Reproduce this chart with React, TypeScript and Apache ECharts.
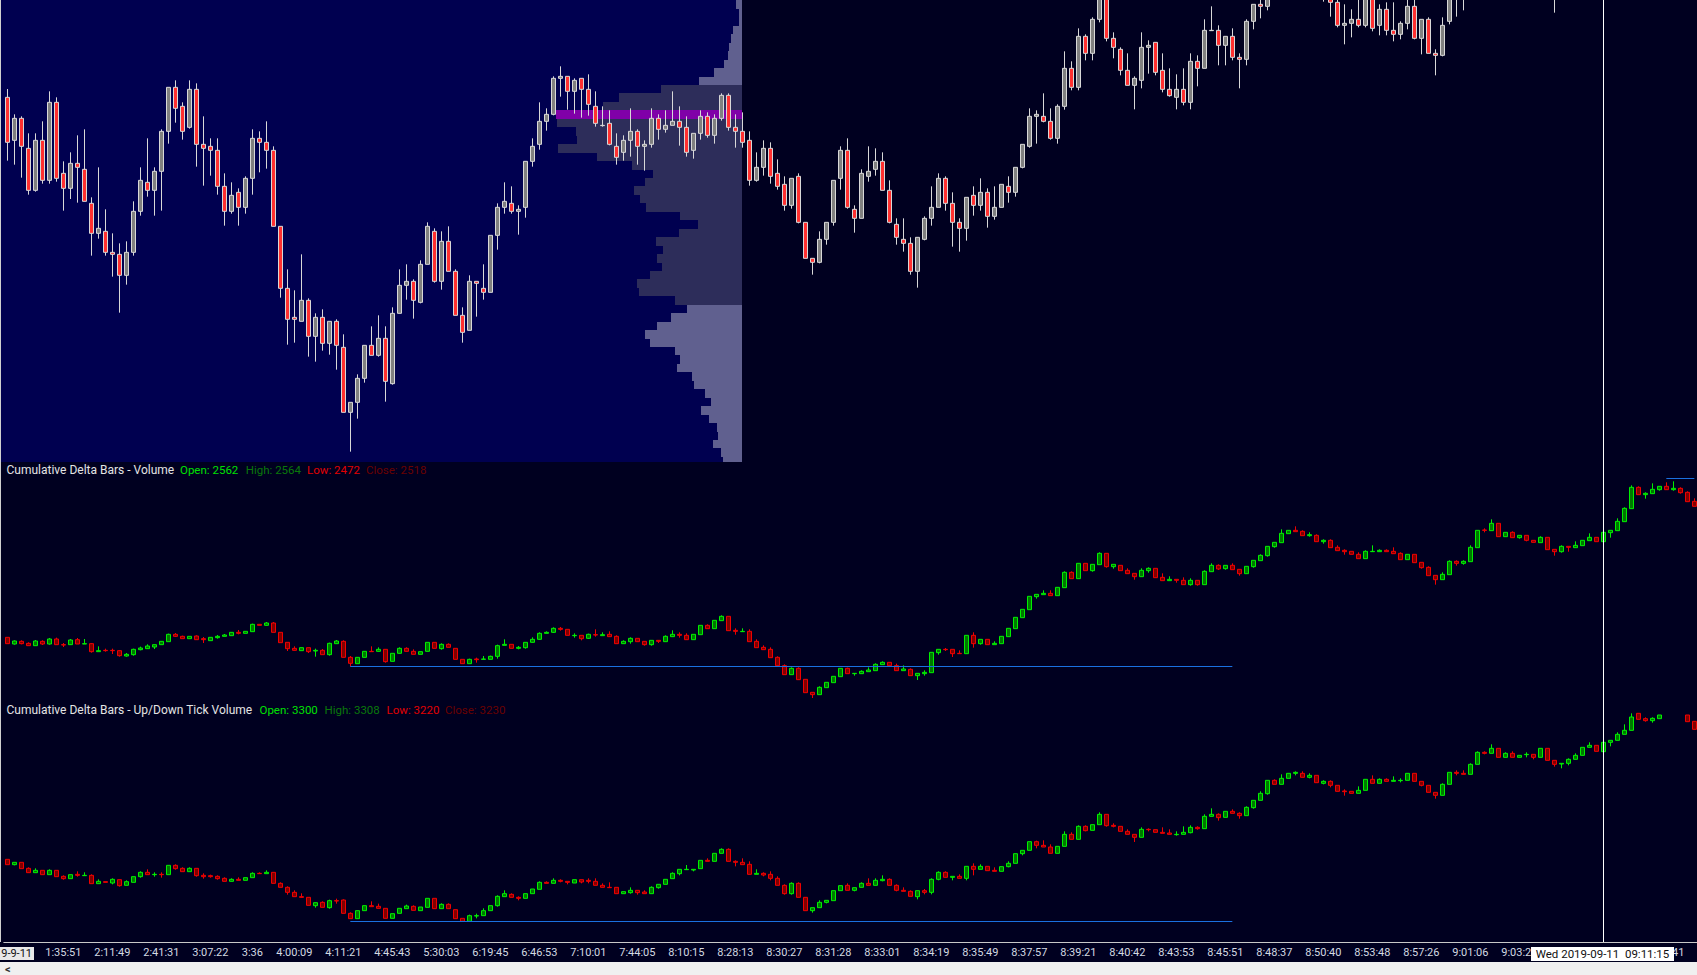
import React, { useEffect, useRef } from "react";
import * as echarts from "echarts";

type Bar = [number, number, number, number, number] | null;

const BAR_COUNT = 242;
const CROSSHAIR_INDEX = 228;

// [bodyTop, bodyBottom, wickTop, wickBottom, up] : depth below the top of the chart area
const priceBars: Bar[] = [
  [292,427,267,482,0],[355,421,343,494,1],[355,439,349,533,0],[445,571,400,584,0],[421,571,400,575,1],[421,541,364,551,0],[307,541,274,551,1],[307,535,292,545,0],[520,565,484,632,0],[490,565,457,597,1],
  [490,502,406,608,0],[508,604,388,604,0],[610,700,592,767,0],[685,700,502,716,1],[694,757,628,767,0],[757,763,700,830,0],[763,826,730,938,0],[757,826,724,854,1],[634,757,604,767,1],[541,634,502,647,1],
  [547,571,415,590,0],[514,571,502,647,1],[394,514,388,632,1],[262,394,262,431,1],[262,325,241,368,0],[319,394,307,419,0],[268,382,241,386,1],[268,433,250,500,0],[433,445,349,557,0],[439,451,415,527,0],
  [451,559,415,584,0],[559,634,520,677,0],[586,634,547,641,1],[577,622,565,677,0],[535,622,529,641,1],[415,535,388,584,1],[415,427,394,517,0],[427,451,364,506,0],[451,679,439,679,0],[679,865,679,893,0],
  [865,958,808,1034,0],[952,958,871,1028,0],[901,964,763,964,1],[901,1009,895,1070,0],[952,1009,940,1085,1],[952,1030,928,1052,0],[964,1030,964,1064,1],[964,1036,958,1109,0],[1042,1237,1003,1237,0],[1207,1237,1207,1355,1],
  [1135,1207,1123,1256,1],[1036,1135,1036,1148,1],[1036,1066,979,1066,0],[1015,1066,946,1070,1],[1015,1144,979,1205,0],[940,1151,922,1154,1],[856,940,808,940,1],[844,856,793,899,1],[844,901,838,956,0],[793,907,781,910,1],
  [679,793,667,793,1],[694,844,685,848,0],[724,844,694,869,1],[724,814,679,814,0],[814,946,808,946,0],[946,997,922,1028,0],[844,991,826,991,1],[844,850,844,950,0],[865,877,793,899,0],[706,877,706,877,1],
  [622,706,610,749,1],[604,622,547,641,1],[610,634,559,641,0],[628,634,616,704,1],[484,622,484,653,1],[439,484,415,500,1],[364,433,307,449,1],[343,364,325,392,1],[235,343,229,346,1],[229,235,199,290,1],
  [229,274,229,329,0],[241,274,235,341,1],[235,268,235,353,0],[268,313,223,347,0],[319,370,274,380,0],[376,377,319,380,1],[370,433,331,436,0],[439,472,400,494,0],[421,457,406,482,1],[394,421,325,470,1],
  [394,439,388,494,0],[433,439,421,512,1],[355,433,325,443,1],[355,388,343,419,0],[376,388,331,398,1],[364,376,274,376,1],[364,382,319,437,0],[382,457,349,470,0],[400,451,400,476,1],[349,400,331,419,1],
  [349,406,337,413,0],[355,406,343,431,1],[286,355,280,362,1],[286,382,280,392,0],[382,394,343,443,0],[394,427,337,443,0],[421,541,394,557,0],[502,541,457,545,1],[445,502,421,527,1],[445,529,427,551,0],
  [520,559,478,569,0],[553,616,529,632,0],[535,616,535,626,1],[529,667,520,670,0],[667,775,667,775,0],[775,787,775,824,0],[718,787,694,790,1],[667,718,667,734,1],[541,667,541,677,1],[451,535,439,569,1],
  [451,622,415,626,0],[628,655,616,698,0],[520,655,508,655,1],[514,529,439,545,1],[484,508,445,527,1],[484,571,457,571,0],[571,667,541,670,0],[673,712,655,734,0],[718,730,655,755,0],[730,814,712,824,0],
  [712,814,712,863,1],[655,718,649,721,1],[622,655,559,677,1],[535,622,520,622,1],[535,610,529,632,0],[610,667,577,740,0],[667,685,655,755,0],[592,685,592,722,1],[586,616,559,647,0],[577,616,535,632,1],
  [577,649,565,683,0],[622,649,559,659,1],[553,622,553,622,1],[559,577,529,608,0],[502,577,502,590,1],[433,502,433,505,1],[349,439,325,443,1],[343,349,331,431,1],[349,364,280,367,0],[364,415,325,419,0],
  [319,415,313,431,1],[205,319,154,329,1],[205,262,184,271,0],[109,262,85,271,1],[109,160,103,181,0],[58,160,52,181,1],[-40,58,-50,67,1],[-20,115,-30,124,0],[115,142,97,175,0],[148,211,142,226,0],
  [211,256,160,256,0],[235,256,229,328,1],[142,241,97,265,1],[136,142,121,221,1],[127,217,127,226,0],[211,268,160,277,0],[268,287,205,290,0],[268,292,223,328,1],[268,307,205,316,0],[184,307,160,328,1],
  [184,205,166,259,0],[91,205,58,205,1],[91,92,19,92,1],[91,136,76,196,0],[109,136,109,196,1],[109,172,85,181,0],[172,178,160,265,0],[64,178,58,196,1],[13,64,13,88,1],[13,19,-10,55,0],
  [-12,19,-20,31,1],null,null,null,null,null,null,null,[-20,-10,-30,5,1],[-10,7,-20,50,0],
  [7,76,-15,82,0],[70,76,13,133,1],[58,70,28,112,1],[58,76,-10,82,0],[-6,76,-15,82,1],[-6,85,-15,94,0],[28,76,13,106,1],[28,91,7,106,0],[91,103,7,124,0],[70,103,64,118,1],
  [19,70,-5,88,1],[19,115,-5,118,0],[58,115,58,163,1],[58,160,52,160,0],[160,166,148,226,0],[76,166,52,169,1],[-10,64,-15,73,1],[-30,-15,-40,50,1],[-25,-15,-35,31,1],null,
  null,null,null,null,null,null,null,null,null,null,null,[-25,-15,-35,38,1],null,null,null,null,null,null,null,null,
  null,null,
];

// Volume profile, one value per price row from the top
const profileVolumes = [
  18,9,9,27,33,39,42,54,84,129,
  243,369,417,558,555,498,495,552,435,330,267,291,324,306,288,186,132,189,258,237,255,240,276,315,309,201,
  165,213,255,291,276,201,186,195,150,144,111,93,123,99,75,72,87,63,57,
];
const POC_ROW = 13;
const VALUE_AREA_START = 10;
const VALUE_AREA_END = 35;

// Cumulative Delta Bars - Volume : readings in three stretches of the pane
const volumeDeltaA: Bar[] = [
  [547,566,547,566,0],[558,567,556,569,1],[559,566,556,568,0],[565,572,562,572,0],[558,572,555,572,1],[559,567,556,570,0],[552,567,549,569,1],[552,569,548,569,0],[569,570,564,576,0],[555,569,552,570,1],
  [554,567,549,567,0],[566,567,552,567,1],[566,590,564,593,0],[587,590,574,590,1],[586,587,581,590,0],[586,587,581,597,0],[587,602,585,605,0],[598,603,594,605,1],[583,599,581,602,1],[579,584,575,586,1],
  [573,581,568,582,1],[569,576,569,582,1],[559,569,558,569,1],[538,560,536,560,1],[538,544,534,546,0],[544,551,542,551,0],[544,551,544,551,1],[543,554,541,554,0],[551,554,546,564,0],[547,557,546,557,1],
  [544,548,540,551,1],[540,544,537,544,1],[532,542,532,542,1],[532,535,525,538,0],[529,535,529,535,1],[508,530,506,530,1],[508,511,508,511,0],[504,511,501,512,1],[504,532,501,532,0],[532,563,532,563,0],
  [562,581,562,588,0],[580,586,574,587,0],[578,587,578,587,1],[578,590,578,594,0],[586,588,581,605,1],[586,599,582,599,0],[565,599,563,602,1],[558,566,555,566,1],[559,607,556,607,0],[607,625,603,635,0],
  [607,626,607,626,1],[589,607,589,607,1],[589,590,574,590,0],[583,589,577,590,1],[583,620,583,623,0],[595,619,595,619,1],[580,595,577,596,1],[580,589,577,590,0],[589,598,583,598,0],[590,598,590,598,1],
  [562,589,562,589,1],[562,580,562,580,0],[568,581,565,584,1],[568,577,565,577,0],[580,613,580,613,0],[613,626,613,626,0],[613,626,611,626,1],[612,614,608,623,0],[612,613,603,613,1],[604,613,602,613,1],
  [572,604,569,611,1],[568,571,553,571,1],[568,580,568,580,0],[577,580,573,583,1],[562,578,562,581,1],[553,562,547,563,1],[535,553,532,555,1],[532,535,529,535,1],[520,532,517,534,1],[520,523,516,527,0],
  [523,541,523,541,0],[541,542,535,548,1],[541,551,541,556,0],[538,550,536,552,1],[539,540,523,545,0],
];
const volumeDeltaB: Bar[] = [
  [404,407,397,407,1],[403,410,394,410,0],[409,431,406,431,0],[424,431,421,431,1],[415,425,412,431,1],[415,425,415,425,0],[424,434,424,437,0],[421,434,421,437,1],[421,424,421,429,0],[409,425,406,425,1],
  [403,410,391,410,1],[403,406,397,413,0],[406,419,400,419,0],[403,419,403,419,1],[376,404,376,404,1],[376,386,373,386,0],[361,386,361,386,1],[349,362,346,362,1],[349,392,349,392,0],[391,394,385,404,0],
  [394,395,385,395,1],[394,425,388,425,0],[424,443,418,443,0],[442,449,436,449,0],[448,473,442,473,0],[472,497,469,497,0],[497,524,493,524,0],[505,524,502,524,1],[505,539,502,539,0],[538,578,538,578,0],
  [577,584,577,594,0],[562,584,559,584,1],[547,563,547,563,1],[529,548,529,548,1],[505,530,505,530,1],[505,521,503,521,0],[520,521,520,527,1],[514,521,511,521,1],[510,515,502,515,1],[493,512,490,512,1],
  [487,494,484,494,1],[487,497,487,497,0],[497,512,491,512,0],[507,512,496,512,1],[508,527,505,527,0],[520,527,520,540,1],[517,521,511,527,1],[457,518,457,518,1],[448,458,448,464,1],[448,449,444,453,0],
  [448,461,448,471,0],[460,461,451,461,0],[406,461,406,461,1],[406,431,397,443,0],[418,431,418,434,1],[418,434,418,434,0],[430,434,424,434,1],[409,431,409,431,1],[385,410,385,410,1],[352,386,352,386,1],
  [328,353,328,353,1],[289,329,289,329,1],[283,290,283,296,1],[280,284,271,284,1],[280,287,271,287,0],[262,287,262,287,1],[217,263,214,263,1],[217,236,214,236,0],[190,236,190,236,1],[190,212,190,212,0],
  [193,212,193,215,1],[160,194,157,194,1],[160,200,160,203,0],[193,200,193,206,1],[196,212,196,212,0],[211,221,205,221,0],[220,230,220,239,0],[211,230,205,230,1],[205,212,202,218,1],[205,233,205,233,0],
  [232,242,220,242,0],[238,242,229,242,1],[238,241,238,248,0],[241,254,232,254,0],[241,254,235,257,1],[241,254,241,257,0],
];
const volumeDeltaC: Bar[] = [
  [319,359,316,359,1],[301,320,295,320,1],[301,312,298,315,0],[301,311,301,314,1],[301,314,295,314,0],[313,326,313,332,0],[304,326,304,326,1],[286,305,286,308,1],[271,287,268,287,1],[244,272,244,275,1],
  [232,245,232,248,1],[205,233,193,233,1],[196,206,196,206,1],[196,200,184,200,0],[199,212,196,212,0],[209,212,202,215,1],[211,230,208,230,0],[226,230,223,236,1],[226,248,223,248,0],[247,257,241,257,0],
  [256,260,253,269,0],[259,268,259,268,0],[268,281,262,281,0],[259,281,256,281,1],[259,260,241,260,1],[256,260,253,260,1],[256,260,253,260,0],[259,266,247,266,0],[265,284,262,284,0],[268,284,268,284,1],
  [268,293,268,293,0],[292,308,292,311,0],[307,332,304,332,0],[331,344,331,359,0],[328,344,322,344,1],[289,329,286,329,1],[289,295,286,302,0],[289,295,286,299,1],[247,290,241,290,1],[196,248,196,248,1],
  [195,196,190,202,0],[175,197,163,197,1],[175,215,175,215,0],[202,215,202,215,1],[202,218,199,218,0],[211,218,211,221,1],[211,226,211,229,0],[226,232,226,232,0],[217,233,214,233,1],[217,254,217,254,0],
  [253,260,253,272,0],[244,260,241,263,1],[244,247,244,260,0],[241,248,229,248,1],[226,242,226,242,1],[217,227,205,227,1],[217,230,217,230,0],[202,230,202,230,1],[196,203,196,218,1],[169,197,160,197,1],
  [130,170,127,170,1],[67,131,61,131,1],[67,89,64,89,0],[85,89,82,101,1],[73,86,55,86,1],[64,74,64,77,1],[64,74,52,74,0],[70,74,49,77,1],[70,83,67,86,0],[82,110,79,110,0],[109,124,100,124,0],
];

// Cumulative Delta Bars - Up/Down Tick Volume
const tickDeltaBars: Bar[] = [
  [478,494,478,494,0],[487,494,487,496,1],[487,506,487,506,0],[505,518,502,518,0],[511,518,505,518,1],[511,524,511,524,0],[511,524,508,524,1],[511,530,511,530,0],[529,536,526,539,0],[524,536,524,536,1],
  [523,526,514,530,0],[526,527,517,527,1],[526,551,523,551,0],[544,551,538,551,1],[545,547,545,547,0],[538,549,535,553,1],[539,557,539,560,0],[545,556,541,556,1],[530,547,530,547,1],[517,530,514,533,1],
  [517,524,508,524,0],[523,524,517,530,1],[523,524,517,533,0],[496,524,496,524,1],[496,506,493,509,0],[505,515,502,515,0],[505,515,502,515,1],[505,527,505,530,0],[526,530,520,536,0],[527,530,524,533,0],
  [529,536,526,539,0],[535,544,532,544,0],[538,544,535,544,1],[538,541,532,541,0],[533,541,533,541,1],[520,533,517,533,1],[520,521,517,521,0],[517,521,511,521,1],[517,550,517,550,0],[550,562,547,562,0],
  [562,577,559,584,0],[577,590,571,590,0],[590,592,580,593,0],[592,616,592,616,0],[608,617,608,623,1],[607,622,604,622,0],[602,623,599,626,1],[602,603,596,611,0],[600,640,598,640,0],[640,656,637,656,0],
  [632,656,632,656,1],[617,632,617,632,1],[617,620,604,620,0],[619,625,611,625,0],[625,655,625,655,0],[641,655,641,655,1],[625,640,625,640,1],[618,626,614,626,1],[619,631,616,631,0],[621,632,621,632,1],
  [595,622,595,622,1],[595,626,595,626,0],[613,626,610,626,1],[613,626,610,626,0],[629,656,629,656,0],[655,664,655,664,0],[647,664,644,664,1],[647,648,641,655,1],[632,647,625,647,1],[617,632,617,632,1],
  [589,617,586,620,1],[581,590,571,590,1],[583,592,580,592,0],[592,595,589,601,0],[581,595,581,595,1],[567,581,567,581,1],[547,568,544,568,1],[547,550,544,550,0],[541,550,535,550,1],[541,544,538,547,0],
  [544,547,544,553,0],[539,549,539,549,1],[539,546,539,550,0],[541,544,535,550,0],[544,556,535,556,0],[556,562,550,562,0],[562,563,547,563,0],[562,581,562,581,0],[575,581,575,581,1],[571,578,562,581,1],
  [571,578,571,584,0],[576,581,571,581,0],[562,581,559,581,1],[553,563,553,566,1],[538,553,538,553,1],[520,536,517,536,1],[508,521,508,526,1],[508,509,495,509,1],[508,510,508,514,1],[481,506,481,506,1],
  [481,484,475,484,0],[460,484,460,484,1],[448,460,445,460,1],[448,484,445,484,0],[484,487,481,499,0],[487,494,475,494,0],[493,523,484,523,0],[520,523,508,523,1],[520,525,517,529,0],[523,535,514,541,0],
  [535,556,529,556,0],[556,581,553,584,0],[550,581,547,584,1],[550,592,547,592,0],[592,632,592,632,0],[623,632,623,638,1],[607,623,601,623,1],[601,607,601,610,1],[572,602,572,602,1],[557,572,557,572,1],
  [556,571,550,571,0],[563,571,563,574,1],[550,562,547,562,1],[550,556,535,556,0],[541,556,535,556,1],[538,542,526,544,1],[538,556,535,556,0],[556,571,553,574,0],[571,574,562,574,0],[574,589,571,589,0],
  [572,590,572,598,1],[572,577,567,583,0],[538,577,535,583,1],[517,538,514,541,1],[517,532,514,532,0],[529,532,529,541,1],[529,535,523,535,0],[499,535,499,541,1],[499,508,490,526,0],[499,508,493,508,1],
  [499,512,499,512,0],[511,514,502,514,0],[500,514,500,514,1],[490,500,484,502,1],[461,490,461,490,1],[451,461,451,466,1],[425,451,425,451,1],[425,436,422,445,0],[436,441,421,441,0],[441,460,433,460,0],
  [439,460,439,460,1],[403,439,394,439,1],[403,418,397,418,0],[379,418,376,418,1],[379,392,376,394,0],[374,391,374,391,1],[343,374,337,374,1],[343,377,343,380,0],[376,379,370,382,0],[379,394,379,394,0],
  [394,403,388,403,0],[403,412,403,426,0],[388,412,382,412,1],[388,389,385,394,0],[389,397,389,397,0],[397,400,382,400,0],[399,403,388,403,0],[403,404,394,407,1],[397,403,379,403,1],[382,398,376,400,1],
  [382,386,379,389,0],[349,386,343,386,1],[343,349,325,349,1],[343,353,340,362,0],[334,352,334,352,1],[334,340,328,340,0],[340,347,337,356,0],[322,347,319,347,1],[301,323,301,326,1],[280,301,274,301,1],
  [241,281,241,284,1],[241,253,238,253,0],[235,253,223,253,1],[220,235,220,235,1],[217,220,214,226,1],[220,232,214,232,0],[226,232,220,235,1],[226,248,226,248,0],[244,250,241,253,1],[244,256,241,262,0],
  [256,274,256,274,0],[273,275,268,287,0],[274,280,274,280,0],[271,280,259,280,1],[238,271,238,271,1],[238,250,226,250,0],[238,250,235,250,1],[238,244,235,244,0],[241,244,229,244,1],[241,242,235,247,1],
  [220,241,220,241,1],[220,244,220,244,0],[244,256,244,259,0],[256,277,256,277,0],[277,286,277,296,0],[253,286,250,286,1],[217,253,217,253,1],[217,220,211,226,0],[220,223,211,223,0],[193,223,190,223,1],
  [157,193,154,193,1],[157,160,154,163,0],[145,160,133,160,1],[145,172,145,172,0],[160,172,157,172,1],[160,172,154,172,0],[166,172,166,172,1],[163,164,157,172,1],[163,172,163,178,0],[145,172,145,172,1],
  [145,181,145,181,0],[181,193,181,200,0],[190,192,190,205,1],[178,190,175,196,1],[166,178,160,178,1],[142,166,142,166,1],[136,142,127,142,1],[136,154,136,154,0],[127,155,124,155,1],[121,127,121,139,1],
  [103,121,97,121,1],[91,103,73,103,1],[51,91,40,91,1],[40,58,40,58,0],[56,62,52,65,0],[55,62,52,68,1],[45,56,45,56,1],null,null,null,
  [45,65,45,65,0],[64,88,64,88,0],
];

const tickIndexes = [0,8,15,22,29,35,41,48,55,62,69,76,83,90,97,104,111,118,125,132,139,146,153,160,167,174,181,188,195,202,209,216,223,230,237];
const tickLabels = ["2019-9-11","1:35:51","2:11:49","2:41:31","3:07:22","3:36","4:00:09","4:11:21","4:45:43","5:30:03","6:19:45","6:46:53","7:10:01","7:44:05","8:10:15","8:28:13","8:30:27","8:31:28","8:33:01","8:34:19","8:35:49","8:37:57","8:39:21","8:40:42","8:43:53","8:45:51","8:48:37","8:50:40","8:53:48","8:57:26","9:01:06","9:03:26","","","9:14:41"];

const titleVolume = [
  { text: "Cumulative Delta Bars - Volume", x: 6.5, fill: "#e4e4e4", size: 12 },
  { text: "Open: 2562", x: 180, fill: "#00e000", size: 11.5 },
  { text: "High: 2564", x: 245.7, fill: "#0a780a", size: 11.5 },
  { text: "Low: 2472", x: 307, fill: "#e00000", size: 11.5 },
  { text: "Close: 2518", x: 366, fill: "#6a0000", size: 11.5 },
];
const titleTick = [
  { text: "Cumulative Delta Bars - Up/Down Tick Volume", x: 6.5, fill: "#e4e4e4", size: 12 },
  { text: "Open: 3300", x: 259.5, fill: "#00e000", size: 11.5 },
  { text: "High: 3308", x: 324.5, fill: "#0a780a", size: 11.5 },
  { text: "Low: 3220", x: 386.5, fill: "#e00000", size: 11.5 },
  { text: "Close: 3230", x: 445, fill: "#6a0000", size: 11.5 },
];
const crosshairLabel = "Wed 2019-09-11  09:11:15";

const FONT = "Roboto";
const LEVEL_COLOR = "#1a70e0";
const shift = (rows: Bar[], d: number): Bar[] =>
  rows.map((r) => (r ? [r[0] + d, r[1] + d, r[2] + d, r[3] + d, r[4]] : null));
const toCandles = (rows: Bar[]) =>
  rows.map((r) => {
    if (!r) return ["-", "-", "-", "-"];
    const [t, b, wt, wb, up] = r;
    return up ? [-b, -t, -wb, -wt] : [-t, -b, -wb, -wt];
  });
const volumeDeltaBars: Bar[] = [
  ...volumeDeltaA,
  ...shift(volumeDeltaB, 135),
  ...shift(volumeDeltaC, 30),
];

export default function App() {
  const ref = useRef<HTMLDivElement>(null);
  useEffect(() => {
    const chart = echarts.init(ref.current!, undefined, { renderer: "svg" });
    const categories = Array.from({ length: BAR_COUNT }, (_, i) => {
      const k = tickIndexes.indexOf(i);
      return k >= 0 ? tickLabels[k] : "";
    });
    const isTick = (i: number) => tickIndexes.includes(i);
    const cross = {
      silent: true,
      symbol: "none",
      label: { show: false },
      lineStyle: { color: "#ffffff", width: 1, type: "solid" as const },
      data: [{ xAxis: CROSSHAIR_INDEX }],
    };
    const levelLine = (from: number, to: number, y: number) => [
      { xAxis: from, yAxis: -y, lineStyle: { color: LEVEL_COLOR, width: 1, type: "solid" } },
      { xAxis: to, yAxis: -y },
    ];
    const grid = (top: number, height: number) => ({
      left: 3.83,
      width: 1694,
      top,
      height,
      outerBoundsMode: "none",
    });
    const hiddenCat = (gridIndex: number) => ({
      type: "category" as const,
      gridIndex,
      data: categories,
      show: false,
    });
    const hiddenVal = (gridIndex: number, min: number, max: number) => ({
      type: "value" as const,
      gridIndex,
      min,
      max,
      show: false,
      splitLine: { show: false },
    });
    const deltaStyle = {
      color: "#007800",
      color0: "#800000",
      borderColor: "#00f000",
      borderColor0: "#f00000",
      borderWidth: 1,
    };
    const zoneColor = (row: number) =>
      row === POC_ROW
        ? "#8000a8"
        : row >= VALUE_AREA_START && row <= VALUE_AREA_END
        ? "#2d2d5a"
        : "#60608f";

    chart.setOption({
      animation: false,
      backgroundColor: "#000020",
      grid: [
        { left: 1, width: 741, top: 0, height: 462, show: true, backgroundColor: "#000050", borderWidth: 0, outerBoundsMode: "none" },
        grid(0, 463),
        grid(463, 254),
        grid(717, 225),
      ],
      xAxis: [
        { type: "value", gridIndex: 0, inverse: true, min: 0, max: 2223, show: false, splitLine: { show: false } },
        hiddenCat(1),
        hiddenCat(2),
        {
          type: "category",
          gridIndex: 3,
          data: categories,
          axisLine: { lineStyle: { color: "#c8c8c8", width: 1 } },
          axisTick: { interval: (i: number) => isTick(i), alignWithLabel: true, length: 4, lineStyle: { color: "#c8c8c8" } },
          axisLabel: {
            interval: (i: number) => isTick(i),
            margin: 5,
            color: "#d4dae2",
            fontFamily: FONT,
            fontSize: 11,
            formatter: (v: string, i: number) => (i === 0 ? `{first|${v}}` : v),
            rich: {
              first: { backgroundColor: "#e8e8e8", color: "#101010", fontFamily: FONT, fontSize: 11, padding: [1, 2, 1, 2] },
            },
          },
        },
      ],
      yAxis: [
        { type: "value", gridIndex: 0, inverse: true, min: -0.055, max: 54.6, show: false, splitLine: { show: false } },
        hiddenVal(1, -1389, 0),
        hiddenVal(2, -786, -24),
        hiddenVal(3, -726, -51),
      ],
      series: [
        {
          type: "custom",
          xAxisIndex: 0,
          yAxisIndex: 0,
          z: 1,
          clip: true,
          encode: { x: 1, y: 0 },
          data: profileVolumes.map((v, row) => ({ value: [row, v], itemStyle: { color: zoneColor(row) } })),
          renderItem: (_: any, api: any) => {
            const row = api.value(0);
            const a = api.coord([api.value(1), row]);
            const b = api.coord([0, row + 1]);
            const y0 = Math.round(a[1]);
            const y1 = Math.round(b[1]);
            return {
              type: "rect",
              shape: { x: a[0], y: y0, width: b[0] - a[0], height: y1 - y0 },
              style: { fill: api.visual("color") },
            };
          },
        },
        {
          type: "candlestick",
          xAxisIndex: 1,
          yAxisIndex: 1,
          z: 3,
          barWidth: 4,
          data: toCandles(priceBars),
          itemStyle: { color: "#808080", color0: "#ff3030", borderColor: "#d8d8d8", borderColor0: "#d8d8d8", borderWidth: 1 },
          markLine: cross,
        },
        {
          type: "candlestick",
          xAxisIndex: 2,
          yAxisIndex: 2,
          z: 3,
          barWidth: 4,
          data: toCandles(volumeDeltaBars),
          itemStyle: deltaStyle,
          markLine: {
            ...cross,
            data: [
              { xAxis: CROSSHAIR_INDEX },
              levelLine(49, 175, 634),
              levelLine(237, 241, 71),
            ],
          },
        },
        {
          type: "candlestick",
          xAxisIndex: 3,
          yAxisIndex: 3,
          z: 3,
          barWidth: 4,
          data: toCandles(tickDeltaBars),
          itemStyle: deltaStyle,
          markLine: {
            ...cross,
            data: [{ xAxis: CROSSHAIR_INDEX }, levelLine(49, 175, 664)],
          },
        },
      ],
      graphic: [
        { type: "rect", z: 50, shape: { x: 0, y: 0, width: 1, height: 942 }, style: { fill: "#d0d0d0" } },
        { type: "rect", z: 50, shape: { x: 0, y: 962, width: 1697, height: 13 }, style: { fill: "#f0f0f0" } },
        { type: "text", z: 51, x: 5, y: 969, style: { text: "<", fill: "#303030", font: `bold 11px ${FONT}`, verticalAlign: "middle" } },
        ...titleVolume.map((t) => ({
          type: "text", z: 60, x: t.x, y: 470,
          style: { text: t.text, fill: t.fill, font: `${t.size}px ${FONT}`, verticalAlign: "middle" },
        })),
        ...titleTick.map((t) => ({
          type: "text", z: 60, x: t.x, y: 710,
          style: { text: t.text, fill: t.fill, font: `${t.size}px ${FONT}`, verticalAlign: "middle" },
        })),
        { type: "rect", z: 70, shape: { x: 1531, y: 947, width: 143, height: 14 }, style: { fill: "#ffffff" } },
        {
          type: "text", z: 71, x: 1602.5, y: 954,
          style: { text: crosshairLabel, fill: "#101010", font: `11.5px ${FONT}`, align: "center", verticalAlign: "middle" },
        },
      ],
    });
    return () => chart.dispose();
  }, []);
  return <div ref={ref} style={{ position: "fixed", left: 0, top: 0, width: 1697, height: 975 }} />;
}
